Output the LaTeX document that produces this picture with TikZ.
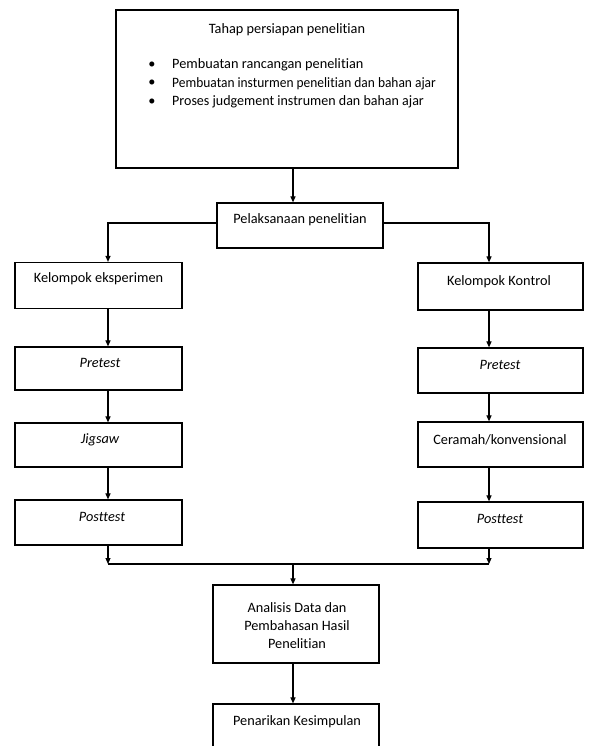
\documentclass[tikz,border=0pt]{standalone}
\usepackage{graphicx}
\usepackage{fontspec}
\setmainfont{Carlito}[Ligatures={NoCommon}]
\usetikzlibrary{arrows.meta}
\begin{document}
\begin{tikzpicture}[x=1pt,y=-1pt,
  box/.style={draw, line width=1.2pt, rectangle, inner sep=0pt},
  lbl/.style={font=\fontsize{14.3}{16}\selectfont, inner sep=0pt, anchor=center},
  conn/.style={line width=1.1pt},
  arr/.style={line width=1.1pt, -{Triangle[length=6pt,width=5pt]}}]
\useasboundingbox (0,0) rectangle (589,746);
\clip (0,0) rectangle (589,746);
% coordinates of vertical connector lines
\coordinate (spine) at (293,0);
\coordinate (lx) at (108,0);
\coordinate (rx) at (489,0);
% boxes
\node[box, minimum width=342pt, minimum height=158pt] (top) at (287,89) {};
\node[box, minimum width=166pt, minimum height=45pt] (pel) at (300,225.5) {};
\node[box, minimum width=167pt, minimum height=46pt] (ke) at (98.5,285.5) {};
\node[box, minimum width=167pt, minimum height=43pt] (pl) at (98.5,368.5) {};
\node[box, minimum width=167pt, minimum height=44pt] (jg) at (98.5,445) {};
\node[box, minimum width=167pt, minimum height=45pt] (ptl) at (98.5,522.5) {};
\node[box, minimum width=165pt, minimum height=47pt] (kk) at (500.5,286.5) {};
\node[box, minimum width=165pt, minimum height=45pt] (pr) at (500.5,370.5) {};
\node[box, minimum width=165pt, minimum height=45pt] (cr) at (500.5,444.5) {};
\node[box, minimum width=165pt, minimum height=46pt] (ptr) at (500.5,525) {};
\node[box, minimum width=166pt, minimum height=78pt] (an) at (296,624) {};
\node[box, minimum width=166pt, minimum height=70pt] (pk) at (296,739) {};
% texts
\node[lbl] (t0) at (287,30) {Tahap persiapan penelitian};
\node[lbl] (b1) at (152,65) {•};
\node[lbl] (b2) at (152,83.5) {•};
\node[lbl] (b3) at (152,102) {•};
\node[lbl, anchor=west] (t1) at (172,65) {Pembuatan rancangan penelitian};
\node[lbl, anchor=west] (t2) at (172,83.5) {\scalebox{0.94}[1]{Pembuatan insturmen penelitian dan bahan ajar}};
\node[lbl, anchor=west] (t3) at (172,102) {\scalebox{0.98}[1]{Proses judgement instrumen dan bahan ajar}};
\node[lbl] (tp) at (300,220) {Pelaksanaan penelitian};
\node[lbl] (tke) at (98.5,279) {Kelompok eksperimen};
\node[lbl] (tpl) at (100,363) {\itshape Pretest};
\node[lbl] (tjg) at (100,440) {\itshape Jigsaw};
\node[lbl] (tptl) at (102,517) {\itshape Posttest};
\node[lbl] (tkk) at (499,282) {Kelompok Kontrol};
\node[lbl] (tpr) at (500,365) {\itshape Pretest};
\node[lbl] (tcr) at (500,440) {Ceramah/konvensional};
\node[lbl] (tptr) at (500,519) {\itshape Posttest};
\node[lbl, align=center] (tan) at (297,625.5) {Analisis Data dan\\[2pt]Pembahasan Hasil\\[2pt]Penelitian};
\node[lbl] (tpk) at (297,722) {Penarikan Kesimpulan};
% connectors
\draw[arr] (top.south -| spine) -- (pel.north -| spine);
\coordinate (hl) at (0,223);
\draw[arr] (pel.west |- hl) -| (ke.north -| lx);
\draw[arr] (pel.east |- hl) -| (kk.north -| rx);
\draw[arr] (ke.south -| lx) -- (pl.north -| lx);
\draw[arr] (pl.south -| lx) -- (jg.north -| lx);
\draw[arr] (jg.south -| lx) -- (ptl.north -| lx);
\draw[arr] (kk.south -| rx) -- (pr.north -| rx);
\draw[arr] (pr.south -| rx) -- (cr.north -| rx);
\draw[arr] (cr.south -| rx) -- (ptr.north -| rx);
\coordinate (bl) at (0,564);
\draw[arr] (ptl.south -| lx) -- (bl -| lx);
\draw[arr] (ptr.south -| rx) -- (bl -| rx);
\draw[conn] (bl -| lx) -- (bl -| rx);
\draw[arr] (bl -| spine) -- (an.north -| spine);
\draw[arr] (an.south -| spine) -- (pk.north -| spine);
\end{tikzpicture}
\end{document}
